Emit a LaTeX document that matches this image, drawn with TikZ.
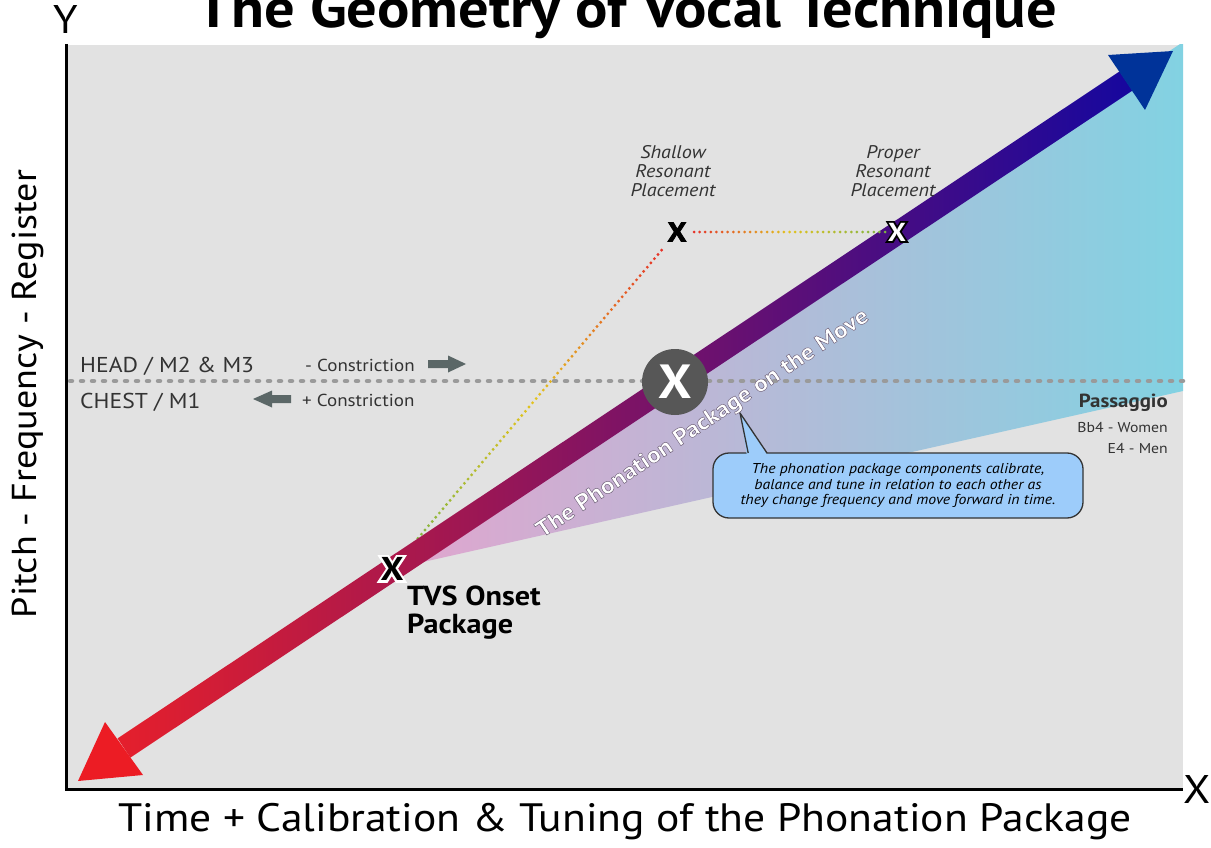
\documentclass[tikz,border=0pt]{standalone}
\usepackage{fontspec}
\setmainfont{PT Sans}[FakeStretch=1.1]
\usepackage{xcolor}
\usepackage{tikz}
\usetikzlibrary{calc,positioning}
\definecolor{plotgray}{HTML}{E2E2E2}
\definecolor{arrowred}{HTML}{E51F2C}
\definecolor{arrowpurple}{HTML}{6A1076}
\definecolor{arrowblue}{HTML}{16079E}
\definecolor{headred}{HTML}{EC1C24}
\definecolor{headblue}{HTML}{003399}
\definecolor{fanpink}{HTML}{E2A5CE}
\definecolor{fanlilac}{HTML}{C4C6DB}
\definecolor{fancyan}{HTML}{82D2E2}
\definecolor{passgray}{HTML}{9A9A9A}
\definecolor{markgray}{HTML}{575757}
\definecolor{blockgray}{HTML}{5B6767}
\definecolor{textgray}{HTML}{333333}
\definecolor{calloutblue}{HTML}{9DCCFA}
\definecolor{dotred}{HTML}{E63228}
\definecolor{dotyellow}{HTML}{E2C21E}
\definecolor{dotgreen}{HTML}{7DB443}
\newcommand{\pxfont}[2]{\fontsize{#1}{#2}\selectfont}
% letter drawn with a stroke: #1 render mode, #2 stroke colour (rgb), #3 stroke width
\newcommand{\stroked}[4]{\special{pdf:literal direct #1 Tr #3 w #2 RG}#4\special{pdf:literal direct 0 Tr}}

\begin{document}
\begin{tikzpicture}[x=1pt, y=-1pt, >=stealth]
        \useasboundingbox (0,0) rectangle (1211,848);
        \clip (0,0) rectangle (1211,848);

        % Plot area
        \fill[plotgray] (66,45) rectangle (1183,788);

        % Fan below the main arrow
        \coordinate (onset) at (392,569);
        \begin{scope}
            \clip (66,45) rectangle (1183,788);
            \shade[left color=fanpink, middle color=fanlilac, right color=fancyan]
                (onset) -- (1183,42) -- (1183,391) -- cycle;
        \end{scope}

        % Passaggio line
        \draw[passgray, line width=4.5pt, line cap=round, dash pattern=on 2pt off 9pt] (70,381) -- (1183,381);

        % Axes
        \draw[line width=3pt] (66,44) -- (66,789) -- (1183,789);
        \node[font=\pxfont{40}{44}, inner sep=0pt] (ylab) at (66,20) {Y};
        \node[font=\pxfont{40}{44}, inner sep=0pt] (xlab) at (1197,789) {X};
        \node[rotate=90, font=\pxfont{34.6}{38}, inner sep=0pt] (ytitle) at (28,394) {Pitch - Frequency - Register};
        \node[font=\pxfont{39.6}{44}, inner sep=0pt] (xtitle) at (625,822) {Time + Calibration \& Tuning of the Phonation Package};
        \node[anchor=base, font=\bfseries\pxfont{55}{58}, inner sep=0pt] (title) at (627,28) {The Geometry of Vocal Technique};

        % Register labels
        \node[anchor=base west, font=\pxfont{21.5}{24}, text=textgray, inner sep=0pt] (head) at (80,372) {HEAD / M2 \& M3};
        \node[anchor=base west, font=\pxfont{21.5}{24}, text=textgray, inner sep=0pt] (chest) at (80,408) {CHEST / M1};
        \node[anchor=base west, font=\pxfont{17.3}{20}, text=textgray, inner sep=0pt] (minus) at (305,371) {- Constriction};
        \node[anchor=base west, font=\pxfont{17.3}{20}, text=textgray, inner sep=0pt] (plus) at (302,406) {+ Constriction};
        \fill[blockgray] (428,360) -- (448,360) -- (448,355.5) -- (466,364) -- (448,372.5) -- (448,368) -- (428,368) -- cycle;
        \fill[blockgray] (291,395) -- (272,395) -- (272,390.5) -- (253,399) -- (272,407.5) -- (272,403) -- (291,403) -- cycle;

        % Dotted line from onset to shallow placement
        \node[font=\bfseries\pxfont{27}{28}, inner sep=0pt] (shallowx) at (677,232) {\stroked{2}{0 0 0}{0.8}{X}};
        \foreach \i in {0,...,71}{
            \pgfmathsetmacro\t{0.053+0.893*\i/71}
            \ifnum\i<36
                \pgfmathsetmacro\p{100*\i/35}
                \colorlet{dotc}{dotyellow!\p!dotgreen}
            \else
                \pgfmathsetmacro\p{100*(\i-36)/35}
                \colorlet{dotc}{dotred!\p!dotyellow}
            \fi
            \fill[dotc] ($(onset)!\t!(shallowx.center)$) circle (1.6);
        }

        % Main arrow
        \coordinate (tailbase) at (124,748);
        \coordinate (tipbase) at (1126,81);
        \shade[left color=arrowred, middle color=arrowpurple, right color=arrowblue]
            ($(tailbase)+(-6.4,-9.6)$) -- ($(tailbase)+(6.4,9.6)$) -- ($(tipbase)+(6.4,9.6)$) -- ($(tipbase)+(-6.4,-9.6)$) -- cycle;
        \fill[headred] (78,781) -- (105,722) -- (143,775) -- cycle;
        \fill[headblue] (1173,51) -- (1108,55) -- (1145,110) -- cycle;

        % Placement markers
        \node[font=\bfseries\pxfont{26}{27}, inner sep=0pt] (properx) at (897,232) {\stroked{1}{0 0 0}{3.4}{X}};
        \node[font=\bfseries\pxfont{26}{27}, text=white, inner sep=0pt] at (properx) {X};
        \coordinate (dotstart) at ($(shallowx.center)+(17,0)$);
        \coordinate (dotend) at ($(properx.center)+(-12,0)$);
        \foreach \i in {0,...,34}{
            \pgfmathsetmacro\t{\i/34}
            \ifnum\i<18
                \pgfmathsetmacro\p{100*\i/17}
                \colorlet{dotc}{dotyellow!\p!dotred}
            \else
                \pgfmathsetmacro\p{100*(\i-17)/17}
                \colorlet{dotc}{dotgreen!\p!dotyellow}
            \fi
            \fill[dotc] ($(dotstart)!\t!(dotend)$) circle (1.5);
        }
        \node[align=center, font=\itshape\pxfont{18.3}{19}, text=textgray, inner sep=0pt] (shallow) at (673,171) {Shallow\\Resonant\\Placement};
        \node[align=center, font=\itshape\pxfont{18.3}{19}, text=textgray, inner sep=0pt] (proper) at (893,171) {Proper\\Resonant\\Placement};

        % Onset
        \node[font=\bfseries\pxfont{33}{34}, inner sep=0pt] (onsetx) at (onset) {\stroked{1}{1 1 1}{4.5}{X}};
        \node[font=\bfseries\pxfont{33}{34}, inner sep=0pt] at (onsetx) {X};
        \node[anchor=base west, font=\bfseries\pxfont{27.5}{28}, inner sep=0pt] (tvs) at (407,605) {TVS Onset};
        \node[anchor=base west, font=\bfseries\pxfont{27.5}{28}, inner sep=0pt] (tvspkg) at (407,633) {Package};

        % Phonation package on the move
        \node[circle, fill=markgray, minimum size=66pt, inner sep=0pt, text=white, font=\bfseries\pxfont{48}{50}] (move) at (675,382) {X};
        \node[rotate=33.7, font=\bfseries\pxfont{23}{24}, text=white] (movelabel) at (703,424) {\stroked{2}{0.42 0.36 0.46}{0.45}{The Phonation Package on the Move}};

        % Passaggio
        \node[anchor=base east, font=\bfseries\pxfont{19}{21}, text=textgray, inner sep=0pt] (pass) at (1168,407) {Passaggio};
        \node[anchor=base east, font=\pxfont{14.3}{17}, text=textgray, inner sep=0pt] (women) at (1168,432) {Bb4 - Women};
        \node[anchor=base east, font=\pxfont{14.3}{17}, text=textgray, inner sep=0pt] (men) at (1168,453) {E4 - Men};

        % Callout
        \coordinate (notetip) at (740,413);
        \node[draw=textgray, line width=1.3pt, fill=calloutblue, rounded corners=16pt, minimum width=370pt, minimum height=65pt, inner sep=0pt, align=center, font=\itshape\pxfont{14.3}{15.5}] (note) at (898,485.5)
            {The phonation package components calibrate,\\balance and tune in relation to each other as\\they change frequency and move forward in time.};
        \fill[calloutblue] (747,456) -- (notetip) -- (768,456) -- cycle;
        \draw[textgray, line width=1.3pt, line join=round] (748.2,453) -- (notetip) -- (767,453);
    \end{tikzpicture}
\end{document}
